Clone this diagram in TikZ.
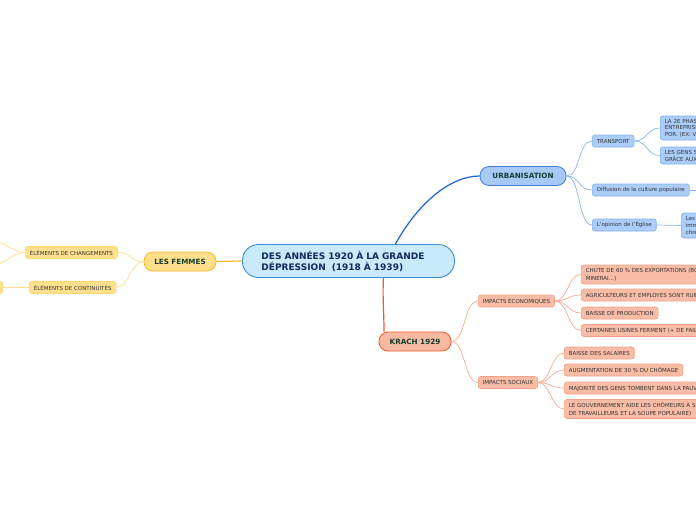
\documentclass[tikz,border=0pt]{standalone}
\usepackage{fontspec}
\setmainfont{DejaVu Sans}
\usetikzlibrary{calc}
\definecolor{cfill}{HTML}{C8EAFB}
\definecolor{cdraw}{HTML}{3B8FD9}
\definecolor{ctext}{HTML}{14285A}
\definecolor{mtext}{HTML}{123F2E}
\definecolor{stext}{HTML}{333333}
\definecolor{bfill}{HTML}{A6C9F6}
\definecolor{bdraw}{HTML}{3E7FD8}
\definecolor{bline}{HTML}{1A62D6}
\definecolor{bsfill}{HTML}{AACDF9}
\definecolor{bsdraw}{HTML}{86B2EE}
\definecolor{bsline}{HTML}{8DB6EF}
\definecolor{rfill}{HTML}{F8B9A3}
\definecolor{rdraw}{HTML}{EE5A2C}
\definecolor{rline}{HTML}{F05A28}
\definecolor{rsfill}{HTML}{F9BCA6}
\definecolor{rsdraw}{HTML}{F3A186}
\definecolor{rsline}{HTML}{F7AB92}
\definecolor{yfill}{HTML}{FFDE8C}
\definecolor{ydraw}{HTML}{F6B928}
\definecolor{yline}{HTML}{F6B928}
\definecolor{ysfill}{HTML}{FFE08F}
\definecolor{ysdraw}{HTML}{FFD66C}
\definecolor{ysline}{HTML}{FFDC88}
\tikzset{
  central/.style={draw=cdraw,fill=cfill,line width=0.9pt,rounded corners=16pt,
    minimum height=33pt,text width=174pt,inner xsep=19pt,align=left,
    font=\fontsize{9}{11}\selectfont\bfseries,text=ctext,anchor=west},
  mainbox/.style={rounded corners=9pt,minimum height=19pt,line width=0.8pt,
    font=\fontsize{7.2}{8.5}\selectfont\bfseries,text=mtext,inner xsep=0pt},
  subbox/.style={rounded corners=2.5pt,minimum height=12pt,line width=0.6pt,
    font=\fontsize{5.5}{7}\selectfont,text=stext,inner xsep=4.5pt,inner ysep=2pt,
    anchor=west,align=left},
  bsub/.style={subbox,fill=bsfill,draw=bsdraw},
  rsub/.style={subbox,fill=rsfill,draw=rsdraw},
  ysub/.style={subbox,fill=ysfill,draw=ysdraw},
  bl/.style={draw=bsline,line width=0.7pt},
  rl/.style={draw=rsline,line width=0.7pt},
  yl/.style={draw=ysline,line width=0.7pt},
}
\begin{document}
\begin{tikzpicture}[x=1pt,y=-1pt]
\useasboundingbox (0,0) rectangle (696,520);
\clip (0,0) rectangle (696,520);
\fill[white] (0,0) rectangle (696,520);
% central
\node[central] (c) at (242,261) {DES ANNÉES 1920 À LA GRANDE\\DÉPRESSION\ \ (1918 À 1939)};
% main nodes
\node[mainbox,fill=bfill,draw=bdraw,minimum width=86pt] (u) at (523,176) {URBANISATION};
\node[mainbox,fill=rfill,draw=rdraw,minimum width=72pt] (k) at (415,341.5) {KRACH 1929};
\node[mainbox,fill=yfill,draw=ydraw,minimum width=72pt] (f) at (180,261.5) {LES FEMMES};
% main connectors
\draw[bline,line width=1.2pt] ($(c.north)+(47,0)$) .. controls +(22,-40) and +(-30,0) .. (u.west);
\draw[rline,line width=1.2pt] ($(c.south)+(35,0)$) .. controls +(-1,20) and +(0,-20) .. ($(k.north)+(-31,0)$);
\draw[yline,line width=1.2pt] (c.west) -- (f.east);
% urbanisation children
\node[bsub] (tr) at (592,141) {TRANSPORT};
\node[bsub] (di) at (592,190) {Diffusion de la culture populaire};
\node[bsub] (op) at (592,225) {L'opinion de l'Église};
\draw[bl] (u.east) .. controls +(14,0) and +(-14,0) .. (tr.west);
\draw[bl] (u.east) .. controls +(14,0) and +(-14,0) .. (di.west);
\draw[bl] (u.east) .. controls +(14,0) and +(-14,0) .. (op.west);
\node[bsub,text width=120pt,minimum height=24pt,font=\fontsize{5.5}{6.6}\selectfont] (t1) at (660,128) {LA 2E PHASE D'IN\\ENTREPRISES DE\\POR. (EX: VOITURES)};
\node[bsub,text width=120pt,minimum height=17pt,font=\fontsize{5.5}{6.6}\selectfont] (t2) at (660,155.5) {LES GENS SE DÉPL\\GRÂCE AUX TRANS};
\draw[bl] (tr.east) .. controls +(13,0) and +(-13,0) .. (t1.west);
\draw[bl] (tr.east) .. controls +(13,0) and +(-13,0) .. (t2.west);
\coordinate (dx) at (710,190);
\draw[bl] (di.east) -- (dx);
\node[bsub,text width=120pt,minimum height=25pt,font=\fontsize{5.5}{7}\selectfont] (o1) at (681,225.5) {Les\\imm\\chré};
\draw[bl] (op.east) -- (o1.west);
% krach children
\node[rsub] (ie) at (478,301) {IMPACTS ÉCONOMIQUES};
\node[rsub] (is) at (478,382.5) {IMPACTS SOCIAUX};
\draw[rl] (k.east) .. controls +(14,0) and +(-14,0) .. (ie.west);
\draw[rl] (k.east) .. controls +(14,0) and +(-14,0) .. (is.west);
\node[rsub,text width=170pt,minimum height=19pt,font=\fontsize{5.5}{8}\selectfont] (e1) at (581,274.5) {CHUTE DE 60 \% DES EXPORTATIONS (BOIS,\\MINERAI...)};
\node[rsub,text width=170pt] (e2) at (581,295) {AGRICULTEURS ET EMPLOYÉS SONT RUINÉS};
\node[rsub] (e3) at (581,313) {BAISSE DE PRODUCTION};
\node[rsub,text width=170pt] (e4) at (581,330.5) {CERTAINES USINES FERMENT (+ DE FAILLITES)};
\foreach \n in {e1,e2,e3,e4} \draw[rl] (ie.east) .. controls +(13,0) and +(-13,0) .. (\n.west);
\node[rsub] (s1) at (564,353) {BAISSE DES SALAIRES};
\node[rsub] (s2) at (564,370) {AUGMENTATION DE 30 \% DU CHÔMAGE};
\node[rsub,text width=170pt] (s3) at (564,388) {MAJORITÉ DES GENS TOMBENT DANS LA PAUVRETÉ};
\node[rsub,text width=200pt,minimum height=19pt,font=\fontsize{5.5}{8}\selectfont] (s4) at (564,409) {LE GOUVERNEMENT AIDE LES CHÔMEURS À SURVIVRE (CAMPS\\DE TRAVAILLEURS ET LA SOUPE POPULAIRE)};
\foreach \n in {s1,s2,s3,s4} \draw[rl] (is.east) .. controls +(13,0) and +(-13,0) .. (\n.west);
% femmes children
\node[ysub] (ch) at (25,252.5) {ÉLÉMENTS DE CHANGEMENTS};
\node[ysub] (co) at (29,287.5) {ÉLÉMENTS DE CONTINUITÉS};
\draw[yl] (f.west) .. controls +(-13,0) and +(13,0) .. (ch.east);
\draw[yl] (f.west) .. controls +(-13,0) and +(13,0) .. (co.east);
\coordinate (ch1) at (-8,240);
\coordinate (ch2) at (-8,266);
\draw[yl] (ch.west) .. controls +(-13,0) and +(10,0) .. (ch1);
\draw[yl] (ch.west) .. controls +(-13,0) and +(10,0) .. (ch2);
\node[subbox,fill=ysfill,draw=ysdraw,anchor=east,minimum width=60pt] (co1) at (3,287.5) {};
\draw[yl] (co1.east) -- (co.west);
\end{tikzpicture}
\end{document}
